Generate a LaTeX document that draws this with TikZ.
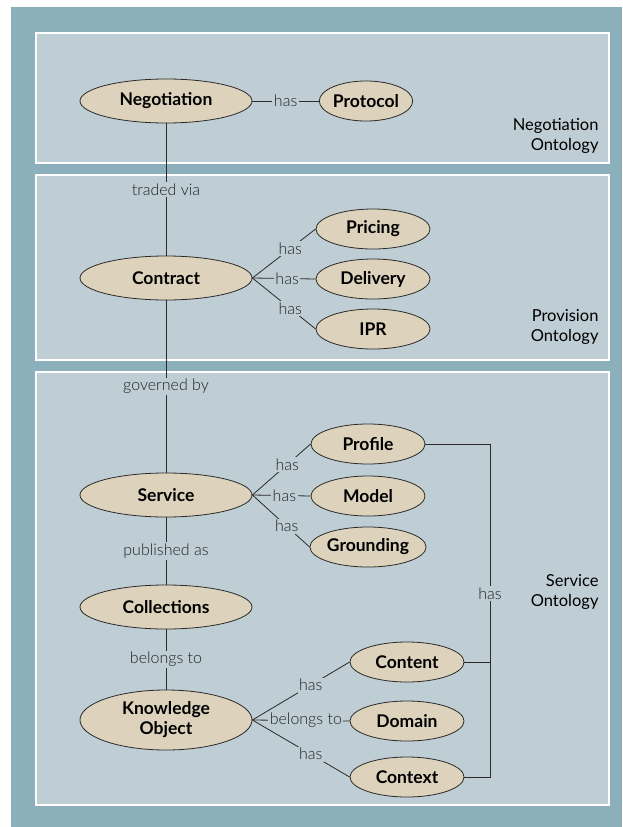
\documentclass[tikz,border=0pt]{standalone}
\usepackage{fontspec}
\setmainfont{Lato}
\newfontfamily\lightf{Lato Light}
\usetikzlibrary{shapes.geometric}
\definecolor{teal}{HTML}{8BAFBB}
\definecolor{panel}{HTML}{BFCDD4}
\definecolor{beige}{HTML}{DDD3BC}
\definecolor{ink}{HTML}{2A2A2A}
\definecolor{lbl}{HTML}{1E2224}
\tikzset{
  panelbox/.style={fill=panel, draw=white, line width=1.6pt},
  bigell/.style={ellipse, draw=ink, line width=0.8pt, fill=beige, minimum width=172pt, minimum height=44pt, inner sep=0pt, font=\bfseries\fontsize{17.5}{18}\selectfont, align=center, text=black},
  smallell/.style={ellipse, draw=ink, line width=0.8pt, fill=beige, minimum width=114pt, minimum height=40pt, inner sep=0pt, font=\bfseries\fontsize{17.5}{18}\selectfont, text=black},
  link/.style={draw=ink, line width=0.8pt},
  rel/.style={fill=panel, inner sep=1.5pt, font=\lightf\fontsize{16}{17}\selectfont, text=lbl},
  onto/.style={font=\fontsize{16.5}{20}\selectfont, align=right, anchor=east, text=black}
}
\begin{document}
\begin{tikzpicture}[x=1pt,y=-1pt]
\useasboundingbox (0,0) rectangle (622,827);
\fill[teal] (11,7) rectangle (622,827);
\path[panelbox] (36,33) rectangle (609,163);
\path[panelbox] (36,175) rectangle (609,360);
\path[panelbox] (36,372) rectangle (609,805);

% nodes
\node[bigell] (neg) at (166,101) {Negotiation};
\node[smallell, minimum width=88pt] (prot) at (366,101) {Protocol};
\node[bigell] (con) at (166,278) {Contract};
\node[smallell] (pri) at (373,229) {Pricing};
\node[smallell] (del) at (373,279) {Delivery};
\node[smallell] (ipr) at (373,329) {IPR};
\node[bigell] (ser) at (166,495) {Service};
\node[smallell] (pro) at (368,444) {Profile};
\node[smallell] (mod) at (368,496) {Model};
\node[smallell] (gro) at (368,547) {Grounding};
\node[bigell] (col) at (166,607) {Collections};
\node[bigell, minimum height=60pt, font=\bfseries\fontsize{17.5}{20}\selectfont] (ko) at (166,720) {Knowledge\\Object};
\node[smallell] (cnt) at (407,662) {Content};
\node[smallell] (dom) at (407,721) {Domain};
\node[smallell] (ctx) at (407,777) {Context};

% ontology labels
\node[onto] (lneg) at (602,136) {Negotiation\\Ontology};
\node[onto] (lpro) at (602,327) {Provision\\Ontology};
\node[onto] (lser) at (602,592) {Service\\Ontology};

% connectors
\draw[link] (neg) -- node[rel]{has} (prot);
\draw[link] (neg) -- node[rel]{traded via} (con);
\draw[link] (con.east) -- node[rel, pos=0.6]{has} (pri.west);
\draw[link] (con.east) -- node[rel, pos=0.55]{has} (del.west);
\draw[link] (con.east) -- node[rel, pos=0.6]{has} (ipr.west);
\draw[link] (con) -- node[rel]{governed by} (ser);
\draw[link] (ser.east) -- node[rel, pos=0.6]{has} (pro.west);
\draw[link] (ser.east) -- node[rel, pos=0.55]{has} (mod.west);
\draw[link] (ser.east) -- node[rel, pos=0.6]{has} (gro.west);
\draw[link] (ser) -- node[rel]{published as} (col);
\draw[link] (col) -- node[rel]{belongs to} (ko);
\draw[link] (ko.east) -- node[rel, pos=0.6]{has} (cnt.west);
\draw[link] (ko.east) -- node[rel, pos=0.55]{belongs to} (dom.west);
\draw[link] (ko.east) -- node[rel, pos=0.6]{has} (ctx.west);
\coordinate (bx) at (490,444);
\draw[link] (pro.east) -- (bx |- pro.east) -- node[rel, pos=0.45]{has} (bx |- ctx.east) -- (ctx.east);
\draw[link] (cnt.east) -- (bx |- cnt.east);
\end{tikzpicture}
\end{document}
